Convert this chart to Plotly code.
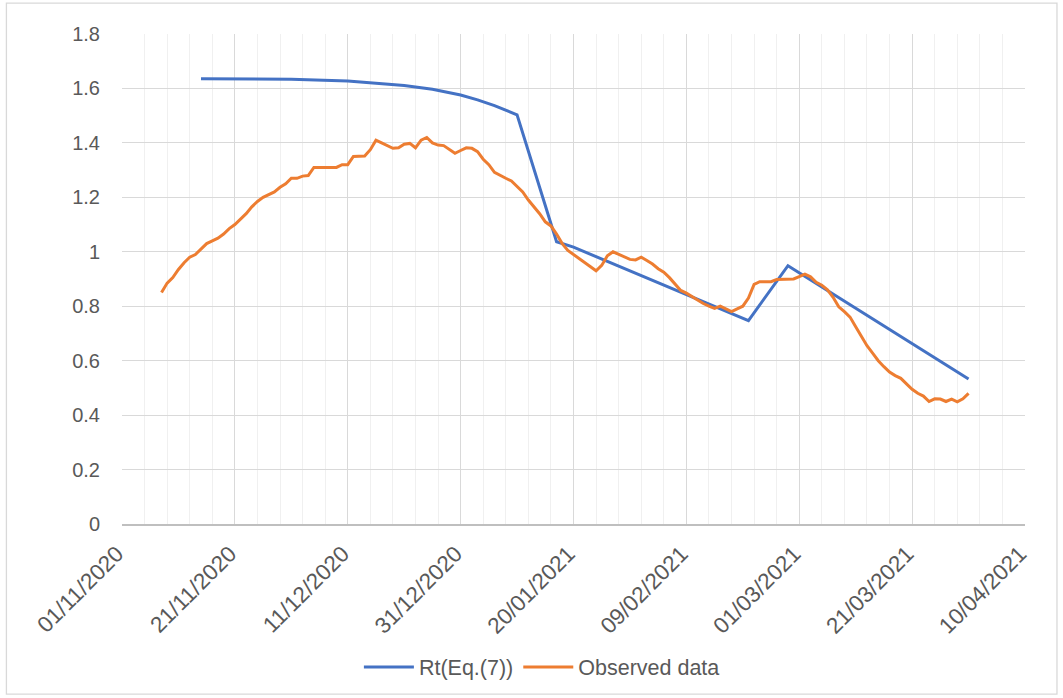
import plotly.graph_objects as go
import pandas as pd

# Rt (Eq.(7)) series
rt_dates = ["2020-11-15", "2020-11-21", "2020-12-01", "2020-12-11", "2020-12-16",
            "2020-12-21", "2020-12-26", "2020-12-31", "2021-01-03", "2021-01-06",
            "2021-01-10", "2021-01-17", "2021-01-20", "2021-01-30", "2021-02-09",
            "2021-02-20", "2021-02-27", "2021-03-11", "2021-03-31"]
rt_values = [1.636, 1.636, 1.634, 1.627, 1.620,
             1.611, 1.597, 1.576, 1.558, 1.537,
             1.503, 1.037, 1.017, 0.930, 0.842,
             0.747, 0.949, 0.793, 0.533]

# Observed data, daily from 08/11/2020
obs_start = "2020-11-08"
obs_values = [0.85, 0.885, 0.905, 0.935, 0.96, 0.98, 0.99, 1.01, 1.03, 1.04,
              1.05, 1.065, 1.085, 1.10, 1.12, 1.14, 1.165, 1.185, 1.20, 1.21,
              1.22, 1.237, 1.25, 1.27, 1.27, 1.278, 1.28, 1.31, 1.31, 1.31,
              1.31, 1.31, 1.32, 1.32, 1.35, 1.35, 1.352, 1.375, 1.41, 1.40,
              1.39, 1.38, 1.382, 1.395, 1.398, 1.382, 1.41, 1.42, 1.40, 1.392,
              1.39, 1.375, 1.362, 1.372, 1.382, 1.38, 1.368, 1.34, 1.32, 1.292,
              1.28, 1.27, 1.26, 1.24, 1.22, 1.19, 1.165, 1.14, 1.11, 1.095,
              1.065, 1.03, 1.005, 0.99, 0.975, 0.96, 0.945, 0.93, 0.95, 0.985,
              1.0, 0.99, 0.98, 0.972, 0.97, 0.98, 0.968, 0.955, 0.938, 0.925,
              0.905, 0.88, 0.858, 0.848, 0.835, 0.82, 0.81, 0.80, 0.792, 0.80,
              0.79, 0.78, 0.79, 0.80, 0.83, 0.88, 0.89, 0.89, 0.89, 0.898,
              0.899, 0.899, 0.90, 0.909, 0.918, 0.908, 0.888, 0.877, 0.86, 0.833,
              0.798, 0.78, 0.76, 0.725, 0.69, 0.655, 0.628, 0.60, 0.578, 0.558,
              0.545, 0.535, 0.515, 0.495, 0.48, 0.47, 0.45, 0.46, 0.459, 0.45,
              0.459, 0.449, 0.46, 0.48]
obs_dates = pd.date_range(obs_start, periods=len(obs_values), freq="D")

y_ticks = [0, 0.2, 0.4, 0.6, 0.8, 1.0, 1.2, 1.4, 1.6, 1.8]
y_labels = ["0", "0.2", "0.4", "0.6", "0.8", "1", "1.2", "1.4", "1.6", "1.8"]

DAY = 86400000
FONT = "Liberation Sans, Arial, sans-serif"
TXT = "#595959"

fig = go.Figure()
fig.add_trace(go.Scatter(x=rt_dates, y=rt_values, mode="lines", name="Rt(Eq.(7))",
                         line=dict(color="#4472C4", width=3)))
fig.add_trace(go.Scatter(x=obs_dates, y=obs_values, mode="lines", name="Observed data",
                         line=dict(color="#ED7D31", width=3)))

fig.update_layout(
    width=1063, height=698,
    margin=dict(l=122, r=38, t=34, b=174, autoexpand=False),
    paper_bgcolor="white", plot_bgcolor="white",
    font=dict(family=FONT, color=TXT, size=20),
    showlegend=True,
    legend=dict(orientation="h", x=0.465, xanchor="center", y=-0.292, yanchor="middle",
                font=dict(size=21.5, color=TXT), itemwidth=50, traceorder="normal"),
    xaxis=dict(type="date", range=["2020-11-01", "2021-04-10"], automargin=False,
               tick0="2020-11-01", dtick=20 * DAY, tickformat="%d/%m/%Y",
               tickangle=-45, showgrid=True, gridcolor="#d9d9d9", gridwidth=1.3,
               minor=dict(dtick=4 * DAY, tick0="2020-11-01", showgrid=True,
                          gridcolor="#f0f0f0", gridwidth=1.3),
               showline=True, linecolor="#bfbfbf", linewidth=1.5,
               ticks="", zeroline=False, ticklabelstandoff=6, ticklabelshift=-5,
               tickfont=dict(size=22.5, color=TXT)),
    yaxis=dict(range=[0, 1.8], tickvals=y_ticks, ticktext=y_labels, automargin=False,
               showgrid=True, gridcolor="#d9d9d9", gridwidth=1.3,
               zeroline=False, showline=False, ticks="", ticklabelstandoff=21,
               tickfont=dict(size=20, color=TXT)),
    shapes=[dict(type="rect", xref="paper", yref="paper",
                 x0=-0.128, x1=1.0354, y0=-0.347, y1=1.063,
                 line=dict(color="#d9d9d9", width=1.3), fillcolor="rgba(0,0,0,0)",
                 layer="below")],
)

fig.write_html("out.html", config={"displayModeBar": False},
               post_script="document.body.style.margin='0';document.body.style.overflow='hidden';")
